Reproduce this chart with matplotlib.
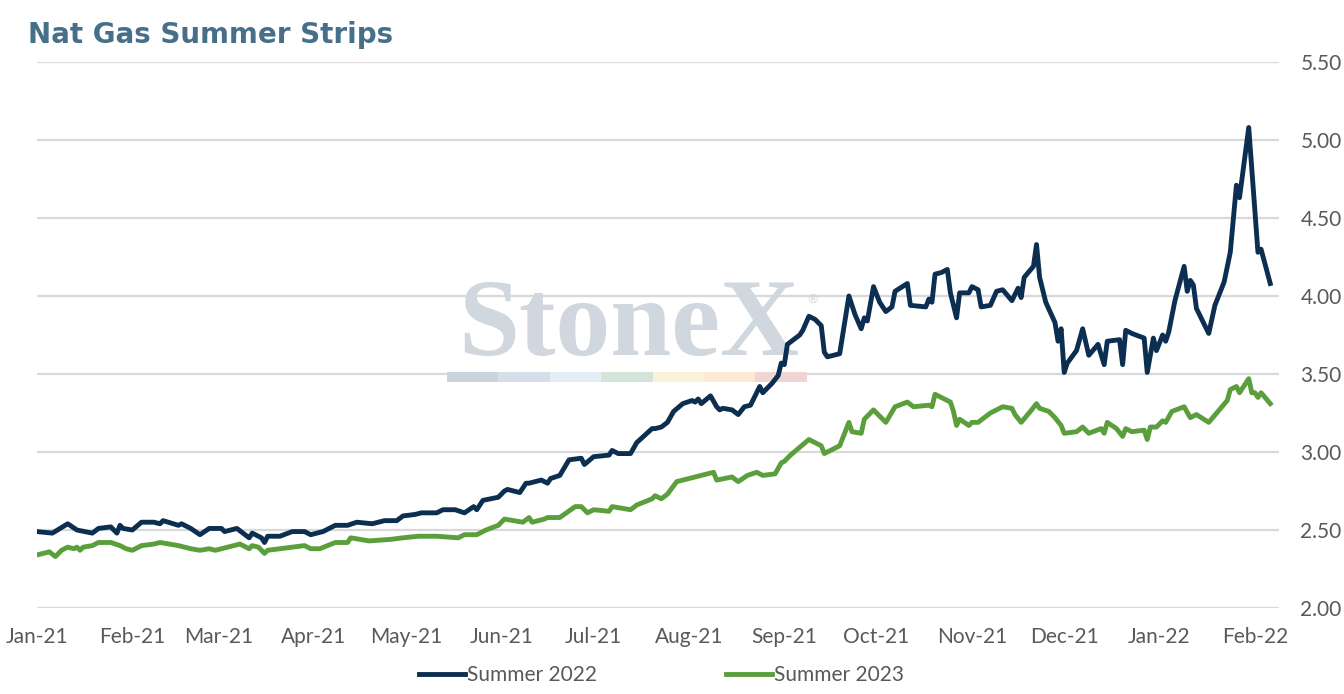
import matplotlib.pyplot as plt
import matplotlib.dates as mdates
from matplotlib.patches import Rectangle
import numpy as np
import pandas as pd

# Summer 2022 strip
s22_dates = ['2021-01-01', '2021-01-06', '2021-01-11', '2021-01-14', '2021-01-19', '2021-01-21',
             '2021-01-25', '2021-01-27', '2021-01-28', '2021-01-29', '2021-02-01', '2021-02-04',
             '2021-02-08', '2021-02-10', '2021-02-11', '2021-02-16', '2021-02-17', '2021-02-20',
             '2021-02-23', '2021-02-26', '2021-03-02', '2021-03-03', '2021-03-07', '2021-03-11',
             '2021-03-12', '2021-03-15', '2021-03-16', '2021-03-17', '2021-03-21', '2021-03-25',
             '2021-03-29', '2021-03-31', '2021-04-04', '2021-04-08', '2021-04-12', '2021-04-15',
             '2021-04-20', '2021-04-24', '2021-04-28', '2021-04-30', '2021-05-04', '2021-05-06',
             '2021-05-11', '2021-05-13', '2021-05-17', '2021-05-20', '2021-05-23', '2021-05-24',
             '2021-05-26', '2021-05-31', '2021-06-02', '2021-06-03', '2021-06-07', '2021-06-09',
             '2021-06-10', '2021-06-14', '2021-06-15', '2021-06-16', '2021-06-17', '2021-06-20',
             '2021-06-23', '2021-06-27', '2021-06-28', '2021-07-01', '2021-07-06', '2021-07-07',
             '2021-07-09', '2021-07-13', '2021-07-15', '2021-07-20', '2021-07-21', '2021-07-23',
             '2021-07-25', '2021-07-27', '2021-07-30', '2021-08-02', '2021-08-03', '2021-08-04',
             '2021-08-05', '2021-08-08', '2021-08-10', '2021-08-11', '2021-08-12', '2021-08-15',
             '2021-08-17', '2021-08-19', '2021-08-21', '2021-08-24', '2021-08-25', '2021-08-28',
             '2021-08-30', '2021-08-31', '2021-09-01', '2021-09-02', '2021-09-06', '2021-09-07',
             '2021-09-09', '2021-09-11', '2021-09-13', '2021-09-14', '2021-09-15', '2021-09-19',
             '2021-09-22', '2021-09-24', '2021-09-26', '2021-09-27', '2021-09-28', '2021-09-30',
             '2021-10-02', '2021-10-04', '2021-10-06', '2021-10-07', '2021-10-11', '2021-10-12',
             '2021-10-17', '2021-10-18', '2021-10-19', '2021-10-20', '2021-10-22', '2021-10-24',
             '2021-10-25', '2021-10-27', '2021-10-28', '2021-10-31', '2021-11-01', '2021-11-03',
             '2021-11-04', '2021-11-07', '2021-11-09', '2021-11-11', '2021-11-14', '2021-11-16',
             '2021-11-17', '2021-11-18', '2021-11-21', '2021-11-22', '2021-11-23', '2021-11-25',
             '2021-11-28', '2021-11-29', '2021-11-30', '2021-12-01', '2021-12-02', '2021-12-05',
             '2021-12-07', '2021-12-09', '2021-12-12', '2021-12-14', '2021-12-15', '2021-12-19',
             '2021-12-20', '2021-12-21', '2021-12-23', '2021-12-27', '2021-12-28', '2021-12-30',
             '2021-12-31', '2022-01-02', '2022-01-03', '2022-01-04', '2022-01-06', '2022-01-09',
             '2022-01-10', '2022-01-11', '2022-01-12', '2022-01-13', '2022-01-17', '2022-01-19',
             '2022-01-22', '2022-01-24', '2022-01-26', '2022-01-27', '2022-01-30', '2022-02-02',
             '2022-02-03', '2022-02-06']
s22_vals = [2.49, 2.48, 2.54, 2.50, 2.48, 2.51,
            2.52, 2.48, 2.53, 2.51, 2.50, 2.55,
            2.55, 2.54, 2.56, 2.53, 2.54, 2.51,
            2.47, 2.51, 2.51, 2.49, 2.51, 2.45,
            2.48, 2.45, 2.42, 2.46, 2.46, 2.49,
            2.49, 2.47, 2.49, 2.53, 2.53, 2.55,
            2.54, 2.56, 2.56, 2.59, 2.60, 2.61,
            2.61, 2.63, 2.63, 2.61, 2.65, 2.63,
            2.69, 2.71, 2.75, 2.76, 2.74, 2.80,
            2.80, 2.82, 2.81, 2.80, 2.83, 2.85,
            2.95, 2.96, 2.92, 2.97, 2.98, 3.01,
            2.99, 2.99, 3.06, 3.15, 3.15, 3.16,
            3.19, 3.26, 3.31, 3.33, 3.32, 3.34,
            3.31, 3.36, 3.29, 3.27, 3.28, 3.27,
            3.24, 3.29, 3.30, 3.42, 3.38, 3.44,
            3.49, 3.57, 3.56, 3.69, 3.75, 3.78,
            3.87, 3.85, 3.81, 3.64, 3.61, 3.63,
            4.00, 3.88, 3.79, 3.86, 3.84, 4.06,
            3.96, 3.90, 3.93, 4.03, 4.08, 3.94,
            3.93, 3.98, 3.96, 4.14, 4.15, 4.17,
            4.02, 3.86, 4.02, 4.02, 4.06, 4.04,
            3.93, 3.94, 4.03, 4.04, 3.97, 4.05,
            3.99, 4.12, 4.19, 4.33, 4.12, 3.96,
            3.83, 3.71, 3.79, 3.51, 3.57, 3.65,
            3.79, 3.62, 3.69, 3.56, 3.71, 3.72,
            3.56, 3.78, 3.76, 3.73, 3.51, 3.73,
            3.65, 3.75, 3.71, 3.77, 3.97, 4.19,
            4.03, 4.10, 4.07, 3.92, 3.76, 3.94,
            4.09, 4.28, 4.71, 4.63, 5.08, 4.28,
            4.30, 4.08]

# Summer 2023 strip
s23_dates = ['2021-01-01', '2021-01-05', '2021-01-07', '2021-01-09', '2021-01-11', '2021-01-13',
             '2021-01-14', '2021-01-15', '2021-01-16', '2021-01-19', '2021-01-21', '2021-01-25',
             '2021-01-28', '2021-01-30', '2021-02-01', '2021-02-04', '2021-02-08', '2021-02-10',
             '2021-02-16', '2021-02-20', '2021-02-23', '2021-02-26', '2021-02-28', '2021-03-04',
             '2021-03-08', '2021-03-11', '2021-03-12', '2021-03-14', '2021-03-16', '2021-03-17',
             '2021-03-25', '2021-03-29', '2021-03-31', '2021-04-03', '2021-04-08', '2021-04-12',
             '2021-04-13', '2021-04-19', '2021-04-26', '2021-04-30', '2021-05-05', '2021-05-11',
             '2021-05-18', '2021-05-20', '2021-05-24', '2021-05-27', '2021-05-31', '2021-06-02',
             '2021-06-05', '2021-06-08', '2021-06-10', '2021-06-11', '2021-06-15', '2021-06-16',
             '2021-06-20', '2021-06-25', '2021-06-27', '2021-06-29', '2021-07-01', '2021-07-06',
             '2021-07-07', '2021-07-10', '2021-07-13', '2021-07-15', '2021-07-20', '2021-07-21',
             '2021-07-23', '2021-07-25', '2021-07-28', '2021-08-01', '2021-08-05', '2021-08-09',
             '2021-08-10', '2021-08-15', '2021-08-17', '2021-08-20', '2021-08-23', '2021-08-25',
             '2021-08-29', '2021-08-31', '2021-09-01', '2021-09-03', '2021-09-06', '2021-09-09',
             '2021-09-13', '2021-09-14', '2021-09-16', '2021-09-19', '2021-09-22', '2021-09-23',
             '2021-09-26', '2021-09-27', '2021-09-30', '2021-10-04', '2021-10-07', '2021-10-11',
             '2021-10-13', '2021-10-18', '2021-10-19', '2021-10-20', '2021-10-22', '2021-10-25',
             '2021-10-26', '2021-10-27', '2021-10-28', '2021-10-31', '2021-11-01', '2021-11-03',
             '2021-11-07', '2021-11-11', '2021-11-14', '2021-11-15', '2021-11-17', '2021-11-20',
             '2021-11-22', '2021-11-23', '2021-11-26', '2021-11-28', '2021-11-30', '2021-12-01',
             '2021-12-05', '2021-12-07', '2021-12-09', '2021-12-13', '2021-12-14', '2021-12-15',
             '2021-12-18', '2021-12-20', '2021-12-21', '2021-12-23', '2021-12-27', '2021-12-28',
             '2021-12-29', '2021-12-31', '2022-01-02', '2022-01-03', '2022-01-05', '2022-01-09',
             '2022-01-11', '2022-01-13', '2022-01-17', '2022-01-23', '2022-01-24', '2022-01-26',
             '2022-01-27', '2022-01-30', '2022-01-31', '2022-02-01', '2022-02-02', '2022-02-03',
             '2022-02-06']
s23_vals = [2.34, 2.36, 2.33, 2.37, 2.39, 2.38,
            2.39, 2.37, 2.39, 2.40, 2.42, 2.42,
            2.40, 2.38, 2.37, 2.40, 2.41, 2.42,
            2.40, 2.38, 2.37, 2.38, 2.37, 2.39,
            2.41, 2.38, 2.40, 2.39, 2.35, 2.37,
            2.39, 2.40, 2.38, 2.38, 2.42, 2.42,
            2.45, 2.43, 2.44, 2.45, 2.46, 2.46,
            2.45, 2.47, 2.47, 2.50, 2.53, 2.57,
            2.56, 2.55, 2.58, 2.55, 2.57, 2.58,
            2.58, 2.65, 2.65, 2.61, 2.63, 2.62,
            2.65, 2.64, 2.63, 2.66, 2.70, 2.72,
            2.70, 2.73, 2.81, 2.83, 2.85, 2.87,
            2.82, 2.84, 2.81, 2.85, 2.87, 2.85,
            2.86, 2.93, 2.94, 2.98, 3.03, 3.08,
            3.04, 2.99, 3.01, 3.04, 3.19, 3.13,
            3.12, 3.21, 3.27, 3.19, 3.29, 3.32,
            3.29, 3.30, 3.29, 3.37, 3.35, 3.32,
            3.26, 3.17, 3.21, 3.17, 3.19, 3.19,
            3.25, 3.29, 3.28, 3.24, 3.19, 3.26,
            3.31, 3.28, 3.26, 3.22, 3.17, 3.12,
            3.13, 3.16, 3.12, 3.15, 3.12, 3.19,
            3.15, 3.10, 3.15, 3.13, 3.14, 3.08,
            3.16, 3.16, 3.20, 3.19, 3.26, 3.29,
            3.22, 3.24, 3.19, 3.33, 3.40, 3.42,
            3.38, 3.47, 3.38, 3.38, 3.35, 3.38,
            3.31]

yticks = [2.0, 2.5, 3.0, 3.5, 4.0, 4.5, 5.0, 5.5]

navy = '#0C2E50'
green = '#5B9E3C'
grey_txt = '#595959'

fig = plt.figure(figsize=(13.44, 6.94), dpi=100)
ax = fig.add_axes([0.0275, 0.1239, 0.9245, 0.7868])

x22 = pd.to_datetime(s22_dates)
x23 = pd.to_datetime(s23_dates)
ax.plot(x22, s22_vals, color=navy, lw=3.5, label='Summer 2022', zorder=3, solid_joinstyle='round')
ax.plot(x23, s23_vals, color=green, lw=3.5, label='Summer 2023', zorder=3, solid_joinstyle='round')

ax.set_ylim(2.0, 5.5)
ax.set_xlim(pd.Timestamp('2021-01-01'), pd.Timestamp('2022-02-09'))
ax.set_yticks(yticks)
ax.yaxis.set_major_formatter(plt.FuncFormatter(lambda v, p: f'{v:.2f}'))
ax.yaxis.tick_right()
ax.xaxis.set_major_locator(mdates.MonthLocator())
ax.xaxis.set_major_formatter(mdates.DateFormatter('%b-%y'))
ax.tick_params(axis='both', length=0, labelsize=15, labelcolor=grey_txt)
ax.tick_params(axis='x', pad=14)
ax.tick_params(axis='y', pad=15)
for lbl in ax.get_xticklabels() + ax.get_yticklabels():
    lbl.set_family('Lato')
ax.grid(axis='y', color='#D9D9D9', lw=1.6)
ax.grid(axis='x', visible=False)
ax.set_axisbelow(True)
for s in ax.spines.values():
    s.set_visible(False)

# StoneX watermark
ax.text(0.4765, 0.463, 'StoneX', transform=ax.transAxes, ha='center', va='baseline',
        fontsize=79, fontweight='bold', family='Liberation Serif', color='#D0D7DF', zorder=1)
ax.text(0.624, 0.565, '®', transform=ax.transAxes, ha='center', va='center',
        fontsize=9, color='#CDD5DD', zorder=1)
band = ['#CAD4DD', '#D5DFE9', '#E3EEF6', '#D5E4DA', '#F8F3DA', '#FBEBD4', '#F1D4D4']
for i, c in enumerate(band):
    ax.add_patch(Rectangle((0.3298 + i * 0.0414, 0.414), 0.0414, 0.018, transform=ax.transAxes,
                           color=c, lw=0, zorder=1))

fig.text(0.021, 0.949, 'Nat Gas Summer Strips', fontsize=20, fontweight='bold',
         color='#46708A', family='DejaVu Sans', va='center')

fig.legend(loc='center', bbox_to_anchor=(0.492, 0.027), ncol=2, frameon=False,
           handlelength=2.2, handletextpad=0.1, columnspacing=6.2,
           prop={'family': 'Lato', 'size': 15}, labelcolor=grey_txt)

fig.savefig('out.png', dpi=100)
